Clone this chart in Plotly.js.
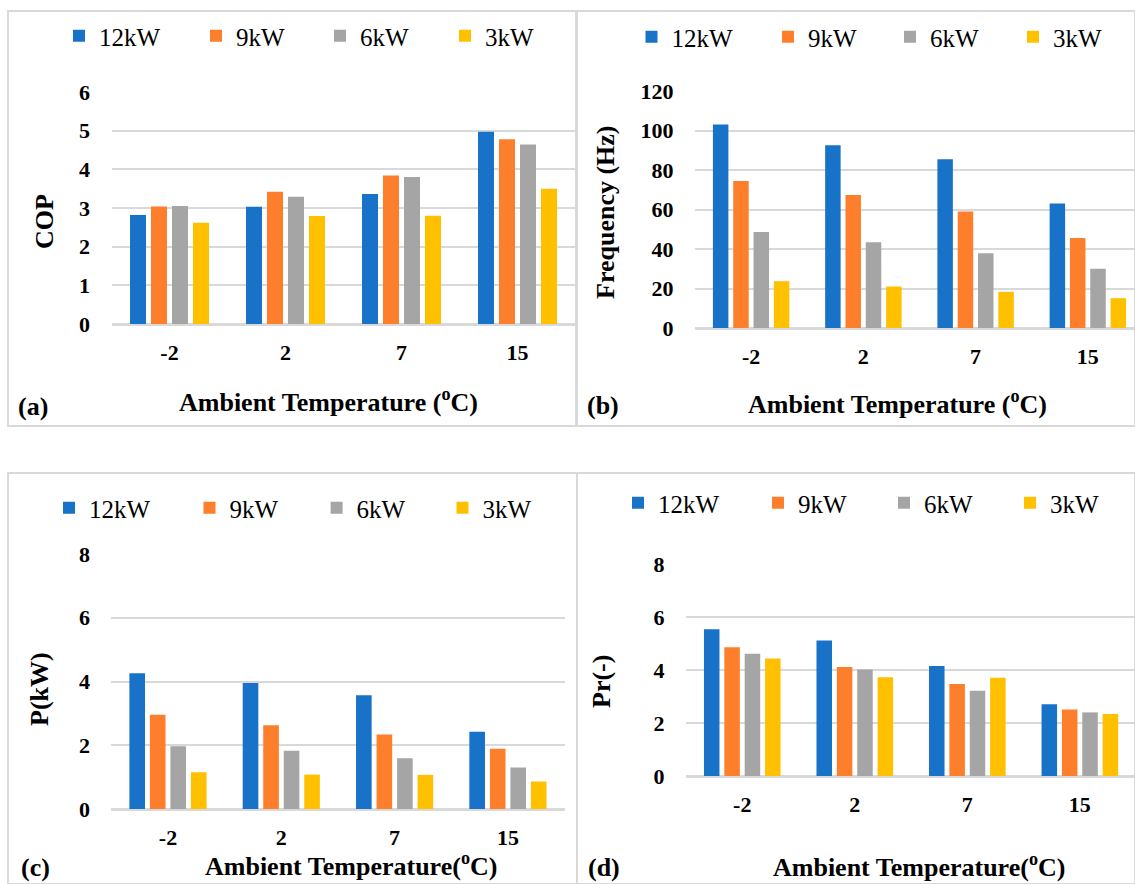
<!DOCTYPE html>
<html><head><meta charset="utf-8">
<script src="https://cdn.plot.ly/plotly-3.0.1.min.js"></script>
<style>html,body{margin:0;padding:0;background:#fff;overflow:hidden;width:1135px;height:884px;} #chart{width:1135px;height:884px;overflow:hidden;}</style>
</head><body><div id="chart"></div>
<script>
// ---- data ----
const categories = ['-2', '2', '7', '15'];
const seriesNames = ['12kW', '9kW', '6kW', '3kW'];
const seriesColors = ['#1872C8', '#FE7F2B', '#A5A5A5', '#FFC000'];

const cop12 = [2.82, 3.03, 3.36, 4.97];
const cop9  = [3.04, 3.42, 3.84, 4.78];
const cop6  = [3.05, 3.29, 3.80, 4.64];
const cop3  = [2.62, 2.79, 2.80, 3.50];

const freq12 = [103.0, 92.5, 85.4, 63.1];
const freq9  = [74.4, 67.3, 59.0, 45.6];
const freq6  = [48.6, 43.4, 37.8, 30.0];
const freq3  = [23.7, 21.0, 18.3, 15.1];

const pow12 = [4.26, 3.95, 3.57, 2.42];
const pow9  = [2.96, 2.63, 2.34, 1.89];
const pow6  = [1.97, 1.83, 1.59, 1.30];
const pow3  = [1.15, 1.08, 1.07, 0.86];

const pr12 = [5.54, 5.11, 4.15, 2.71];
const pr9  = [4.86, 4.11, 3.47, 2.51];
const pr6  = [4.61, 4.02, 3.22, 2.40];
const pr3  = [4.43, 3.73, 3.71, 2.34];

const yTitles = ['COP', 'Frequency (Hz)', 'P(kW)', 'Pr(-)'];
const xTitles = ['Ambient Temperature (<sup>o</sup>C)', 'Ambient Temperature (<sup>o</sup>C)',
                 'Ambient Temperature(<sup>o</sup>C)', 'Ambient Temperature(<sup>o</sup>C)'];
const panelLabels = ['(a)', '(b)', '(c)', '(d)'];
const yMax = [6, 120, 8, 8];
const yStep = [1, 20, 2, 2];

// ---- layout helpers ----
const W = 1135, H = 884;
const px = v => v / W;
const py = v => 1 - v / H;
const FONT = 'Liberation Serif';

const panels = [
  { data: [cop12, cop9, cop6, cop3],     xd: [111.5, 575.5], xr: [-0.5, 3.5],  yd: [92, 324],
    legX: [75, 212, 336, 461],      legY: 36,  yt: [44, 222],  xt: [328, 401, 'middle'], pl: [33, 407, 'middle'] },
  { data: [freq12, freq9, freq6, freq3], xd: [695, 1135],    xr: [-0.5, 3.42], yd: [91, 328],
    legX: [647.5, 784, 906, 1029],  legY: 37,  yt: [605, 212], xt: [897, 403, 'middle'], pl: [603, 406, 'middle'] },
  { data: [pow12, pow9, pow6, pow3],     xd: [111.3, 564.6], xr: [-0.5, 3.5],  yd: [554, 809],
    legX: [65, 205.5, 332.6, 458.5], legY: 508, yt: [39, 689],  xt: [351, 864, 'middle'], pl: [35, 884, 'bottom'] },
  { data: [pr12, pr9, pr6, pr3],         xd: [686, 1135],    xr: [-0.5, 3.49], yd: [564, 776],
    legX: [634, 774, 900, 1026],    legY: 503, yt: [601, 682], xt: [919, 865, 'middle'], pl: [604, 884, 'bottom'] }
];

const traces = [];
const layout = {
  width: W, height: H,
  margin: { l: 0, r: 0, t: 0, b: 0 },
  showlegend: true,
  paper_bgcolor: '#fff', plot_bgcolor: 'rgba(0,0,0,0)',
  barmode: 'group', bargap: 0.276, bargroupgap: 0.238,
  font: { family: FONT, color: '#000' },
  annotations: [], shapes: []
};

// panel borders
[[8, 576, 11, 426], [577, 1135, 11, 426], [8, 577, 473, 884], [577, 1135, 473, 884]].forEach(b => {
  layout.shapes.push({ type: 'rect', xref: 'paper', yref: 'paper', layer: 'below',
    x0: px(b[0]), x1: px(b[1]), y0: py(b[3]), y1: py(b[2]),
    line: { color: '#D9D9D9', width: 2 }, fillcolor: 'rgba(0,0,0,0)' });
});

let legCount = 0;
panels.forEach((p, i) => {
  const n = i + 1;
  const xa = n === 1 ? 'x' : 'x' + n, ya = n === 1 ? 'y' : 'y' + n;
  p.data.forEach((vals, s) => {
    legCount += 1;
    const legName = legCount === 1 ? 'legend' : 'legend' + legCount;
    traces.push({ type: 'bar', x: categories, y: vals, name: seriesNames[s],
      xaxis: xa, yaxis: ya, legend: legName, showlegend: true,
      marker: { color: seriesColors[s], line: { width: 0 } }, hoverinfo: 'x+y+name' });
    layout[legName] = {
      visible: true,
      orientation: 'h', x: px(p.legX[s] - 16), y: py(p.legY), xanchor: 'left', yanchor: 'middle',
      xref: 'paper', yref: 'paper',
      font: { family: FONT, size: 25, color: '#000' }, bgcolor: 'rgba(0,0,0,0)',
      itemclick: false, itemdoubleclick: false
    };
  });
  layout[n === 1 ? 'xaxis' : 'xaxis' + n] = {
    domain: [px(p.xd[0]), px(p.xd[1])], anchor: ya, type: 'category', range: p.xr,
    showgrid: false, zeroline: false, showline: false,
    ticks: 'outside', ticklen: 9, tickcolor: 'rgba(0,0,0,0)',
    tickfont: { family: FONT, size: 22, weight: 'bold', color: '#000' }, fixedrange: true
  };
  layout[n === 1 ? 'yaxis' : 'yaxis' + n] = {
    domain: [py(p.yd[1]), py(p.yd[0])], anchor: xa, range: [0, yMax[i]], dtick: yStep[i], tick0: 0,
    showgrid: true, gridcolor: '#D9D9D9', gridwidth: 2,
    zeroline: true, zerolinecolor: '#D9D9D9', zerolinewidth: 3, showline: false,
    ticks: 'outside', ticklen: 16, tickcolor: 'rgba(0,0,0,0)',
    tickfont: { family: FONT, size: 22, weight: 'bold', color: '#000' }, fixedrange: true
  };
  const tf = { family: FONT, size: 26, weight: 'bold', color: '#000' };
  layout.annotations.push({ xref: 'paper', yref: 'paper', x: px(p.yt[0]), y: py(p.yt[1]),
    text: yTitles[i], textangle: -90, showarrow: false, xanchor: 'center', yanchor: 'middle', font: tf });
  layout.annotations.push({ xref: 'paper', yref: 'paper', x: px(p.xt[0]), y: py(p.xt[1]),
    text: xTitles[i], showarrow: false, xanchor: 'center', yanchor: p.xt[2], font: tf });
  layout.annotations.push({ xref: 'paper', yref: 'paper', x: px(p.pl[0]), y: py(p.pl[1]),
    text: panelLabels[i], showarrow: false, xanchor: 'center', yanchor: p.pl[2], font: tf });
});

Plotly.newPlot('chart', traces, layout, { displayModeBar: false });
</script>
</body></html>
